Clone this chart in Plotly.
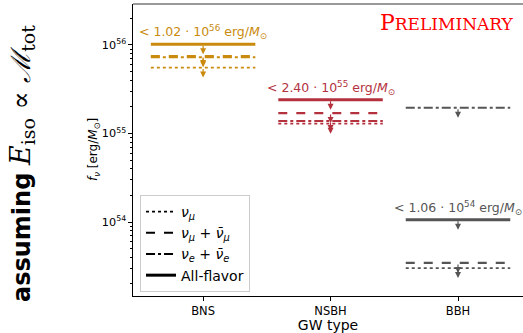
import math
import plotly.graph_objects as go

categories = ["BNS", "NSBH", "BBH"]
all_flavor = [1.02e56, 2.40e55, 1.06e54]
numu_numubar = [7.5e55, 1.70e55, 3.45e53]
nue_nuebar = [7.25e55, 1.38e55, 1.95e55]
numu = [5.55e55, 1.29e55, 3.02e53]
colors = ["#c98a0e", "#b3323e", "#555555"]

series = [
    ("<i>ν</i><sub><i>μ</i></sub>", numu, "dot", 1.8),
    ("<i>ν</i><sub><i>μ</i></sub> + <i>ν̄</i><sub><i>μ</i></sub>", numu_numubar, "dash", 2.2),
    ("<i>ν</i><sub><i>e</i></sub> + <i>ν̄</i><sub><i>e</i></sub>", nue_nuebar, "dashdot", 2.0),
    ("All-flavor", all_flavor, "solid", 3.0),
]
draw_order = [2, 0, 1, 3]
half = 0.41

fig = go.Figure()
annotations = []
for k in draw_order:
    name, vals, dash, w = series[k]
    for i, (cat, v) in enumerate(zip(categories, vals)):
        fig.add_trace(go.Scatter(x=[i - half, i + half], y=[v, v], mode="lines",
                                 line=dict(color=colors[i], dash=dash, width=w),
                                 showlegend=False, hoverinfo="skip"))
        annotations.append(dict(x=i, y=math.log10(v), xref="x", yref="y", ax=0, ay=-10,
                                yshift=-10, showarrow=True, arrowhead=2, arrowsize=1,
                                arrowwidth=1.2, arrowcolor=colors[i], text=""))
for name, vals, dash, w in series:
    fig.add_trace(go.Scatter(x=[None], y=[None], mode="lines", name=name,
                             line=dict(color="black", dash=dash, width=w)))

for i, v in enumerate(all_flavor):
    e = math.floor(math.log10(v))
    m = v / 10 ** e
    annotations.append(dict(x=i, y=math.log10(v), xref="x", yref="y", showarrow=False,
                            yanchor="bottom", yshift=1,
                            text=f"&lt; {m:.2f} · 10<sup>{e}</sup> erg/<i>M</i><sub>⊙</sub>",
                            font=dict(size=12.5, color=colors[i], family="DejaVu Sans")))

annotations.append(dict(xref="paper", yref="paper", x=0.982, y=0.985, xanchor="right", yanchor="top",
                        showarrow=False,
                        text="P<span style='font-size:17px'>RELIMINARY</span>",
                        font=dict(size=22, color="red", family="DejaVu Serif")))
annotations.append(dict(xref="paper", yref="paper", x=-0.285, y=0.455, xanchor="center", yanchor="middle",
                        showarrow=False, textangle=-90,
                        text="<b>assuming</b> <span style='font-family:DejaVu Serif;font-size:27px'><i>E</i><sub>iso</sub> ∝ <i>ℳ</i><sub>tot</sub></span>",
                        font=dict(size=24, color="black", family="DejaVu Sans")))
annotations.append(dict(xref="paper", yref="paper", x=-0.1, y=0.5, xanchor="center", yanchor="middle",
                        showarrow=False, textangle=-90,
                        text="<i>f</i><sub><i>ν</i></sub> [erg/<i>M</i><sub>⊙</sub>]",
                        font=dict(size=12, color="black", family="DejaVu Sans")))

fig.update_layout(
    width=523, height=333,
    margin=dict(l=133, r=0, t=4, b=37, autoexpand=False),
    paper_bgcolor="white", plot_bgcolor="white",
    font=dict(family="DejaVu Sans", color="black"),
    annotations=annotations,
    showlegend=True,
    legend=dict(x=0.018, y=0.346, xanchor="left", yanchor="top",
                bgcolor="rgba(255,255,255,0.85)", bordercolor="#cccccc", borderwidth=1,
                font=dict(size=14), tracegroupgap=0, itemwidth=30),
    shapes=[dict(type="line", xref="paper", yref="paper", x0=0, x1=1, y0=1, y1=1,
                 line=dict(color="#777777", width=1.5))],
)
fig.update_xaxes(range=[-0.55, 2.51], tickvals=[0, 1, 2], ticktext=categories,
                 showline=True, linecolor="black", linewidth=1, ticks="outside", ticklen=4,
                 tickcolor="black", showgrid=False, zeroline=False, automargin=False,
                 tickfont=dict(size=11.5),
                 title=dict(text="GW type", font=dict(size=14), standoff=4))
fig.update_yaxes(type="log", range=[53.164, 56.463], dtick=1, exponentformat="power",
                 showline=True, linecolor="black", linewidth=1, ticks="outside", ticklen=4,
                 tickcolor="black", showgrid=False, zeroline=False, automargin=False,
                 tickfont=dict(size=9),
                 minor=dict(ticks="outside", ticklen=2, tickcolor="black", showgrid=False))
fig.write_html("out.html", config={"displayModeBar": False},
               post_script="document.body.style.margin='0px';document.body.style.overflow='hidden';")
